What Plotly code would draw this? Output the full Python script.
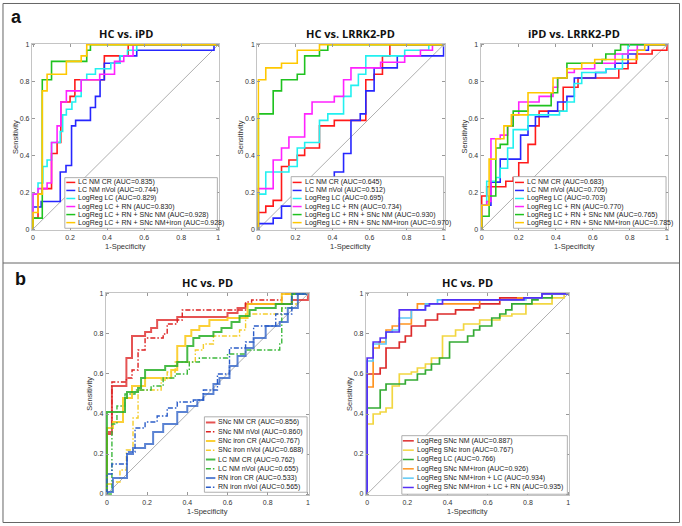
import plotly.graph_objects as go

W, H = 682, 526

# ---------------- panel a, plot 1: HC vs. iPD ----------------
a1_lc_cr_x = [0, 0.027, 0.05, 0.1, 0.13, 0.15, 0.2, 0.226, 0.385, 0.514, 1]
a1_lc_cr_y = [0.06, 0.19, 0.22, 0.41, 0.47, 0.69, 0.72, 0.81, 0.94, 1.0, 1.0]
a1_lc_vol_x = [0, 0.044, 0.147, 0.178, 0.208, 0.23, 0.31, 0.337, 0.362, 0.385, 0.468, 0.56, 0.977, 1]
a1_lc_vol_y = [0.12, 0.15, 0.31, 0.345, 0.56, 0.59, 0.66, 0.72, 0.81, 0.90, 0.94, 0.97, 1.0, 1.0]
a1_lc_x = [0, 0.027, 0.053, 0.076, 0.1, 0.147, 0.16, 0.18, 0.21, 0.23, 0.26, 0.29, 0.337, 0.42, 0.47, 0.51, 0.56, 1]
a1_lc_y = [0.19, 0.25, 0.34, 0.375, 0.47, 0.53, 0.62, 0.65, 0.69, 0.72, 0.81, 0.84, 0.87, 0.90, 0.94, 0.97, 1.0, 1.0]
a1_lc_rn_x = [0, 0.027, 0.076, 0.1, 0.13, 0.15, 0.18, 0.26, 0.36, 0.44, 0.49, 0.54, 1]
a1_lc_rn_y = [0.19, 0.22, 0.25, 0.47, 0.56, 0.69, 0.75, 0.81, 0.84, 0.91, 0.94, 1.0, 1.0]
a1_nm_x = [0, 0.027, 0.05, 0.1, 0.29, 0.31, 1]
a1_nm_y = [0.06, 0.06, 0.81, 0.91, 0.97, 1.0, 1.0]
a1_nm_iron_x = [0, 0.027, 0.05, 0.076, 0.18, 0.26, 0.29, 1]
a1_nm_iron_y = [0.09, 0.19, 0.75, 0.84, 0.91, 0.94, 1.0, 1.0]
a1_auc = [0.835, 0.744, 0.829, 0.830, 0.928, 0.928]

# ---------------- panel a, plot 2: HC vs. LRRK2-PD ----------------
a2_lc_cr_x = [0, 0.04, 0.08, 0.125, 0.165, 0.21, 0.25, 0.33, 0.41, 0.58, 0.625, 0.67, 0.71, 1]
a2_lc_cr_y = [0.09, 0.125, 0.156, 0.34, 0.375, 0.40, 0.44, 0.56, 0.59, 0.81, 0.84, 0.94, 1.0, 1.0]
a2_lc_vol_x = [0, 0.08, 0.125, 0.25, 0.33, 0.41, 0.46, 0.5, 0.55, 0.58, 0.625, 0.75, 1, 1]
a2_lc_vol_y = [0.03, 0.06, 0.125, 0.19, 0.25, 0.31, 0.41, 0.59, 0.625, 0.75, 0.875, 0.94, 0.97, 1.0]
a2_lc_x = [0, 0.04, 0.165, 0.21, 0.25, 0.33, 0.375, 0.46, 0.5, 0.54, 0.58, 0.79, 0.92, 1]
a2_lc_y = [0.19, 0.31, 0.34, 0.44, 0.47, 0.59, 0.625, 0.72, 0.78, 0.84, 0.94, 0.97, 1.0, 1.0]
a2_lc_rn_x = [0, 0.08, 0.125, 0.165, 0.25, 0.29, 0.41, 0.46, 0.5, 0.66, 0.79, 0.875, 0.94, 1]
a2_lc_rn_y = [0.22, 0.375, 0.44, 0.5, 0.625, 0.69, 0.72, 0.81, 0.875, 0.905, 0.94, 0.97, 1.0, 1.0]
a2_nm_x = [0, 0.08, 0.125, 0.21, 0.25, 0.33, 0.375, 1]
a2_nm_y = [0.625, 0.75, 0.81, 0.84, 0.94, 0.97, 1.0, 1.0]
a2_nm_iron_x = [0, 0.04, 0.125, 0.21, 0.33, 1]
a2_nm_iron_y = [0.81, 0.875, 0.90, 0.97, 1.0, 1.0]
a2_auc = [0.645, 0.512, 0.695, 0.734, 0.930, 0.970]

# ---------------- panel a, plot 3: iPD vs. LRRK2-PD ----------------
a3_lc_cr_x = [0, 0.027, 0.13, 0.17, 0.2, 0.25, 0.29, 0.31, 0.44, 0.52, 0.74, 0.79, 0.835, 0.92, 1]
a3_lc_cr_y = [0.18, 0.23, 0.26, 0.28, 0.36, 0.46, 0.56, 0.64, 0.77, 0.82, 0.87, 0.90, 0.95, 0.97, 1.0]
a3_lc_vol_x = [0, 0.05, 0.1, 0.21, 0.25, 0.29, 0.36, 0.41, 0.46, 0.5, 0.615, 0.67, 0.72, 0.79, 0.84, 0.9, 1]
a3_lc_vol_y = [0.13, 0.255, 0.38, 0.51, 0.56, 0.61, 0.64, 0.69, 0.72, 0.82, 0.85, 0.87, 0.90, 0.95, 0.97, 1.0, 1.0]
a3_lc_x = [0, 0.027, 0.076, 0.1, 0.14, 0.17, 0.25, 0.42, 0.46, 0.5, 0.54, 0.67, 0.76, 0.79, 1]
a3_lc_y = [0.13, 0.26, 0.28, 0.33, 0.44, 0.54, 0.62, 0.64, 0.69, 0.79, 0.85, 0.87, 0.95, 1.0, 1.0]
a3_lc_rn_x = [0, 0.027, 0.05, 0.1, 0.14, 0.17, 0.2, 0.31, 0.385, 0.41, 0.46, 0.5, 0.61, 0.72, 0.79, 0.84, 1]
a3_lc_rn_y = [0.13, 0.15, 0.49, 0.51, 0.56, 0.62, 0.69, 0.72, 0.77, 0.82, 0.85, 0.87, 0.90, 0.95, 0.97, 1.0, 1.0]
a3_nm_x = [0, 0.04, 0.076, 0.1, 0.14, 0.17, 0.25, 0.375, 0.41, 0.46, 0.65, 0.67, 0.72, 0.75, 1]
a3_nm_y = [0.07, 0.18, 0.44, 0.46, 0.56, 0.64, 0.67, 0.74, 0.82, 0.90, 0.92, 0.95, 0.97, 1.0, 1.0]
a3_nm_iron_x = [0, 0.04, 0.076, 0.12, 0.16, 0.25, 0.385, 0.46, 0.54, 0.61, 0.84, 0.88, 1]
a3_nm_iron_y = [0.13, 0.38, 0.49, 0.56, 0.62, 0.74, 0.82, 0.87, 0.90, 0.92, 0.97, 1.0, 1.0]
a3_auc = [0.683, 0.705, 0.703, 0.770, 0.765, 0.785]

# ---------------- panel b, plot 4: HC vs. PD, single measures ----------------
b1_snc_nm_cr_x = [0, 0.025, 0.097, 0.125, 0.19, 0.22, 0.25, 0.35, 0.6, 0.65, 0.69, 0.92, 1]
b1_snc_nm_cr_y = [0.3, 0.54, 0.68, 0.79, 0.81, 0.83, 0.87, 0.885, 0.905, 0.93, 0.95, 0.97, 1.0]
b1_snc_nm_vol_x = [0, 0.025, 0.097, 0.125, 0.155, 0.19, 0.28, 0.3, 0.35, 0.375, 0.69, 0.72, 0.87, 1]
b1_snc_nm_vol_y = [0.31, 0.56, 0.58, 0.62, 0.72, 0.78, 0.80, 0.85, 0.87, 0.92, 0.96, 0.97, 1.0, 1.0]
b1_snc_fe_cr_x = [0, 0.03, 0.08, 0.125, 0.19, 0.32, 0.35, 0.39, 0.42, 0.46, 0.51, 0.6, 0.7, 0.87, 1]
b1_snc_fe_cr_y = [0.33, 0.36, 0.48, 0.54, 0.58, 0.62, 0.74, 0.79, 0.82, 0.84, 0.87, 0.88, 0.95, 1.0, 1.0]
b1_snc_fe_vol_x = [0, 0.03, 0.065, 0.097, 0.13, 0.155, 0.27, 0.3, 0.34, 0.44, 0.48, 0.53, 0.66, 0.69, 0.87, 0.95, 1]
b1_snc_fe_vol_y = [0.05, 0.06, 0.12, 0.22, 0.38, 0.52, 0.57, 0.61, 0.66, 0.72, 0.75, 0.79, 0.82, 0.90, 0.95, 1.0, 1.0]
b1_lc_cr_x = [0, 0.09, 0.1, 0.155, 0.17, 0.19, 0.29, 0.35, 0.4, 0.43, 0.46, 0.53, 0.57, 0.62, 0.66, 0.71, 0.74, 0.84, 0.92, 1]
b1_lc_cr_y = [0.41, 0.48, 0.51, 0.53, 0.58, 0.62, 0.64, 0.66, 0.74, 0.78, 0.79, 0.81, 0.83, 0.86, 0.89, 0.92, 0.93, 0.95, 1.0, 1.0]
b1_lc_vol_x = [0, 0.025, 0.05, 0.09, 0.14, 0.22, 0.28, 0.34, 0.4, 0.41, 0.46, 0.6, 0.69, 0.86, 0.87, 0.92, 1]
b1_lc_vol_y = [0.0, 0.35, 0.44, 0.50, 0.52, 0.54, 0.58, 0.60, 0.62, 0.66, 0.68, 0.70, 0.72, 0.75, 0.93, 1.0, 1.0]
b1_rn_cr_x = [0, 0.03, 0.1, 0.13, 0.19, 0.23, 0.28, 0.35, 0.4, 0.45, 0.48, 0.53, 0.56, 0.61, 0.65, 0.69, 0.73, 0.79, 0.86, 0.9, 0.95, 1]
b1_rn_cr_y = [0.01, 0.08, 0.2, 0.23, 0.25, 0.31, 0.35, 0.41, 0.44, 0.47, 0.5, 0.55, 0.58, 0.64, 0.69, 0.73, 0.78, 0.84, 0.86, 0.93, 1.0, 1.0]
b1_rn_vol_x = [0, 0.025, 0.1, 0.14, 0.19, 0.25, 0.3, 0.35, 0.43, 0.48, 0.55, 0.61, 0.69, 0.73, 0.84, 0.92, 1]
b1_rn_vol_y = [0.1, 0.15, 0.21, 0.33, 0.36, 0.39, 0.43, 0.46, 0.47, 0.52, 0.6, 0.73, 0.76, 0.84, 0.9, 1.0, 1.0]
b1_auc = [0.856, 0.860, 0.767, 0.688, 0.762, 0.655, 0.533, 0.565]

# ---------------- panel b, plot 5: HC vs. PD, logistic models ----------------
b2_snc_nm_x = [0, 0.065, 0.094, 0.16, 0.19, 0.22, 0.29, 0.35, 0.44, 0.53, 0.56, 0.66, 0.87, 1]
b2_snc_nm_y = [0.6, 0.63, 0.73, 0.76, 0.79, 0.84, 0.87, 0.9, 0.92, 0.93, 0.95, 0.98, 1.0, 1.0]
b2_snc_fe_x = [0, 0.03, 0.065, 0.094, 0.125, 0.16, 0.22, 0.25, 0.29, 0.32, 0.375, 0.44, 0.48, 0.56, 0.66, 0.72, 0.79, 0.92, 0.98, 1]
b2_snc_fe_y = [0.35, 0.4, 0.41, 0.43, 0.54, 0.6, 0.61, 0.63, 0.65, 0.68, 0.79, 0.82, 0.85, 0.87, 0.89, 0.9, 0.95, 0.98, 1.0, 1.0]
b2_lc_x = [0, 0.065, 0.094, 0.19, 0.25, 0.29, 0.32, 0.36, 0.41, 0.5, 0.53, 0.56, 0.62, 0.66, 0.69, 0.72, 0.82, 0.85, 0.92, 1]
b2_lc_y = [0.43, 0.52, 0.55, 0.57, 0.6, 0.62, 0.65, 0.68, 0.76, 0.79, 0.82, 0.84, 0.88, 0.9, 0.92, 0.95, 0.97, 0.98, 1.0, 1.0]
b2_nm_fe_x = [0, 0.03, 0.06, 0.094, 0.125, 0.16, 0.22, 0.25, 0.56, 0.75, 0.87, 1]
b2_nm_fe_y = [0.535, 0.73, 0.76, 0.82, 0.84, 0.85, 0.92, 0.95, 0.97, 0.98, 1.0, 1.0]
b2_nm_fe_lc_x = [0, 0.03, 0.094, 0.125, 0.16, 0.22, 0.29, 0.35, 0.79, 0.87, 1]
b2_nm_fe_lc_y = [0.665, 0.75, 0.81, 0.82, 0.88, 0.92, 0.95, 0.97, 0.98, 1.0, 1.0]
b2_all_x = [0, 0.03, 0.065, 0.094, 0.16, 0.25, 0.29, 0.31, 0.375, 0.78, 0.87, 1]
b2_all_y = [0.68, 0.76, 0.78, 0.81, 0.92, 0.92, 0.94, 0.95, 0.97, 0.98, 1.0, 1.0]
b2_auc = [0.887, 0.767, 0.766, 0.926, 0.934, 0.935]

a_names = ["LC NM CR", "LC NM nVol", "LogReg LC", "LogReg LC + RN",
           "LogReg LC + RN + SNc NM", "LogReg LC + RN + SNc NM+iron"]
b1_names = ["SNc NM CR", "SNc NM nVol", "SNc iron CR", "SNc iron nVol",
            "LC NM CR", "LC NM nVol", "RN iron CR", "RN iron nVol"]
b2_names = ["LogReg SNc NM", "LogReg SNc iron", "LogReg LC", "LogReg SNc NM+iron",
            "LogReg SNc NM+iron + LC", "LogReg SNc NM+iron + LC + RN"]
titles = ["HC vs. iPD", "HC vs. LRRK2-PD", "iPD vs. LRRK2-PD", "HC vs. PD", "HC vs. PD"]

a_colors = ["#ff1a1a", "#2626ff", "#22f0f0", "#ff22ff", "#1fc21f", "#ffc800"]
b1_colors = ["rgba(222,40,40,0.8)", "#dd2020", "rgba(250,200,20,0.85)", "#f5cd2a",
             "rgba(40,175,40,0.85)", "#3cb83c", "rgba(50,100,200,0.8)", "#2a5cc8"]
DASHDOT = "5px,2px,1.5px,2px"
b1_dash = ["solid", DASHDOT] * 4
b2_colors = ["#dc2a2a", "#f2d640", "#33aa33", "#ff9420", "#5cc8f5", "#5530f5"]

# pixel boxes of the five axes (left, top, right, bottom)
boxes = [(31, 42, 219, 230), (257, 42, 445, 230), (481, 42, 669, 230),
         (105, 293, 309, 497), (366, 293, 570, 497)]


def px(x):
    return x / W


def py(y):
    return 1 - y / H


def label(x, y, text, size, **kw):
    d = dict(x=px(x), y=py(y), xref="paper", yref="paper", text=text, showarrow=False,
             xanchor="center", yanchor="middle",
             font=dict(family=kw.pop("family", "Liberation Sans"), size=size,
                       color=kw.pop("color", "#333")))
    d.update(kw)
    return d


fig = go.Figure()

curves = [
    [(a1_lc_cr_x, a1_lc_cr_y), (a1_lc_vol_x, a1_lc_vol_y), (a1_lc_x, a1_lc_y),
     (a1_lc_rn_x, a1_lc_rn_y), (a1_nm_x, a1_nm_y), (a1_nm_iron_x, a1_nm_iron_y)],
    [(a2_lc_cr_x, a2_lc_cr_y), (a2_lc_vol_x, a2_lc_vol_y), (a2_lc_x, a2_lc_y),
     (a2_lc_rn_x, a2_lc_rn_y), (a2_nm_x, a2_nm_y), (a2_nm_iron_x, a2_nm_iron_y)],
    [(a3_lc_cr_x, a3_lc_cr_y), (a3_lc_vol_x, a3_lc_vol_y), (a3_lc_x, a3_lc_y),
     (a3_lc_rn_x, a3_lc_rn_y), (a3_nm_x, a3_nm_y), (a3_nm_iron_x, a3_nm_iron_y)],
    [(b1_snc_nm_cr_x, b1_snc_nm_cr_y), (b1_snc_nm_vol_x, b1_snc_nm_vol_y),
     (b1_snc_fe_cr_x, b1_snc_fe_cr_y), (b1_snc_fe_vol_x, b1_snc_fe_vol_y),
     (b1_lc_cr_x, b1_lc_cr_y), (b1_lc_vol_x, b1_lc_vol_y),
     (b1_rn_cr_x, b1_rn_cr_y), (b1_rn_vol_x, b1_rn_vol_y)],
    [(b2_snc_nm_x, b2_snc_nm_y), (b2_snc_fe_x, b2_snc_fe_y), (b2_lc_x, b2_lc_y),
     (b2_nm_fe_x, b2_nm_fe_y), (b2_nm_fe_lc_x, b2_nm_fe_lc_y), (b2_all_x, b2_all_y)],
]
names = [a_names, a_names, a_names, b1_names, b2_names]
aucs = [a1_auc, a2_auc, a3_auc, b1_auc, b2_auc]
colors = [a_colors, a_colors, a_colors, b1_colors, b2_colors]
dashes = [["solid"] * 6, ["solid"] * 6, ["solid"] * 6, b1_dash, ["solid"] * 6]

axis_common = dict(range=[-0.006, 1.006], tickvals=[0, 0.2, 0.4, 0.6, 0.8, 1],
                   ticktext=["0", "0.2", "0.4", "0.6", "0.8", "1"],
                   ticks="inside", ticklen=3, tickcolor="#999", tickwidth=0.8,
                   showline=True, linecolor="#c4c4c4", linewidth=1, mirror="ticks",
                   showgrid=False, zeroline=False, fixedrange=True,
                   tickfont=dict(family="Liberation Sans", size=7, color="#333"))

shapes = []
annotations = []
for i, (l, t, r, b) in enumerate(boxes):
    k = "" if i == 0 else str(i + 1)
    fig.update_layout({
        "xaxis" + k: dict(axis_common, domain=[px(l), px(r)], anchor="y" + k),
        "yaxis" + k: dict(axis_common, domain=[py(b), py(t)], anchor="x" + k),
    })
    # chance line
    fig.add_trace(go.Scatter(x=[0, 1], y=[0, 1], mode="lines", xaxis="x" + k, yaxis="y" + k,
                             line=dict(color="#9a9a9a", width=0.8), showlegend=False,
                             hoverinfo="skip"))
    for j, (xs, ys) in enumerate(curves[i]):
        w = 1.6
        if i == 3:
            w = 2.0 if dashes[i][j] == "solid" else 1.4
        if i == 4:
            w = 1.7
        fig.add_trace(go.Scatter(x=[0] + xs, y=[0] + ys, mode="lines", line_shape="hv",
                                 xaxis="x" + k, yaxis="y" + k,
                                 line=dict(color=colors[i][j], width=w, dash=dashes[i][j]),
                                 name=names[i][j], showlegend=False))
    # titles and axis labels
    top_title = 32 if i < 3 else 283
    annotations.append(label((l + r) / 2, top_title, "<b>" + titles[i] + "</b>", 11,
                             family="Open Sans", color="#111"))
    annotations.append(label((l + r) / 2, b + 16, "1-Specificity", 7.5))
    annotations.append(label(l - 16, (t + b) / 2, "Sensitivity", 7.5, textangle=-90))

# hand-drawn legends (left, top, right, bottom, first row y, row pitch, sample x0, x1)
legends = [(64, 177, 217, 228, 181.8, 8.1, 65.5, 74.5),
           (291, 176, 444, 228, 181.8, 8.1, 292.5, 301.5),
           (514, 176, 667, 228, 181.8, 8.1, 515.5, 524.5),
           (204, 418, 307, 494, 423.7, 9.33, 205.5, 215),
           (402, 437, 568, 496, 442.2, 9.4, 403, 414)]
for i, (l, t, r, b, y0, dy, s0, s1) in enumerate(legends):
    shapes.append(dict(type="rect", xref="paper", yref="paper", layer="above",
                       x0=px(l), x1=px(r), y0=py(b), y1=py(t),
                       fillcolor="white", line=dict(color="#9a9a9a", width=0.8)))
    for j, nm in enumerate(names[i]):
        yy = y0 + j * dy
        w = 2.0 if (i == 3 and dashes[i][j] == "solid") else 1.5
        shapes.append(dict(type="line", xref="paper", yref="paper", layer="above",
                           x0=px(s0), x1=px(s1), y0=py(yy), y1=py(yy),
                           line=dict(color=colors[i][j], width=w, dash=dashes[i][j])))
        annotations.append(label(s1 + 1, yy, "%s (AUC=%.3f)" % (nm, aucs[i][j]), 7,
                                 color="#222", xanchor="left"))

# panel frame and divider
shapes.append(dict(type="rect", xref="paper", yref="paper", x0=px(2), x1=px(680.5),
                   y0=py(524.5), y1=py(1.5), line=dict(color="#666", width=1)))
shapes.append(dict(type="line", xref="paper", yref="paper", x0=px(2), x1=px(680.5),
                   y0=py(263), y1=py(263), line=dict(color="#666", width=1)))

annotations.append(label(16, 15, "<b>a</b>", 18, color="#111"))
annotations.append(label(20, 279, "<b>b</b>", 18, color="#111"))

fig.update_layout(width=W, height=H, margin=dict(l=0, r=0, t=0, b=0),
                  paper_bgcolor="white", plot_bgcolor="white",
                  shapes=shapes, annotations=annotations, showlegend=False)

# drop the default page margin so the figure sits at the window's corner
fig.write_html("out.html", config={"displayModeBar": False},
               post_script="document.body.style.margin='0';")
